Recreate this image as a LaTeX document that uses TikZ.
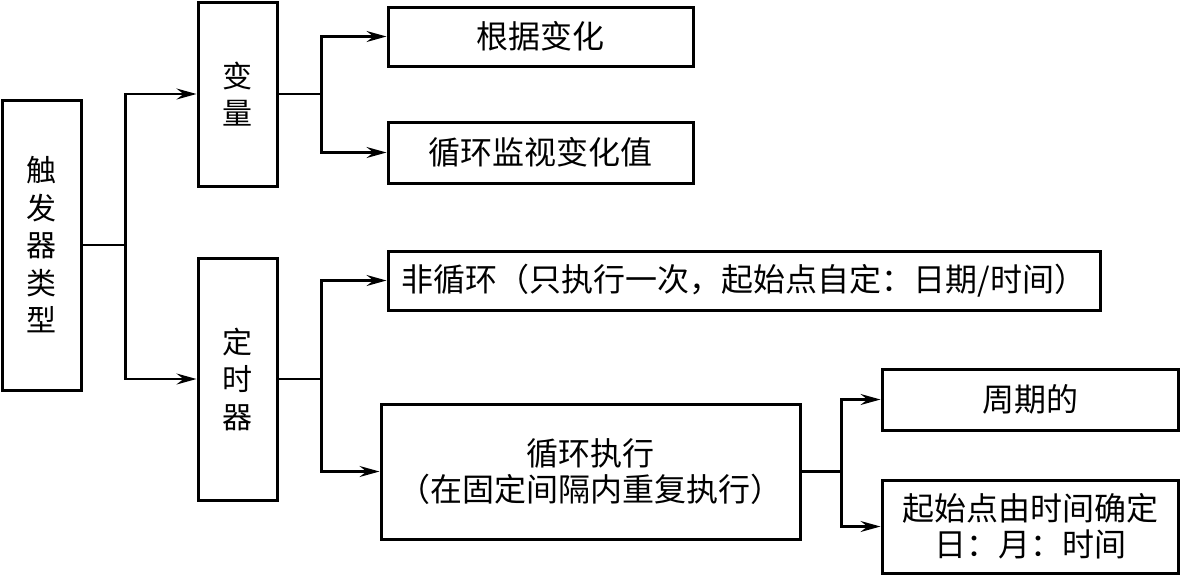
\documentclass[tikz,border=0pt]{standalone}
\usepackage{fontspec}
\newfontfamily\cjk{Noto Sans CJK SC}
\usetikzlibrary{arrows.meta}
\tikzset{
  box/.style={draw, line width=3pt, inner sep=0pt, align=center,
    font=\cjk\fontsize{32}{36}\selectfont},
  vbox/.style={box, font=\cjk\fontsize{30}{37.5}\selectfont},
  line/.style={line width=2.2pt},
  conn/.style={line width=2.2pt, -{Stealth[length=20pt,width=11pt,inset=7pt]}},
}
\begin{document}
\begin{tikzpicture}[x=1pt,y=-1pt]
\useasboundingbox (0,0) rectangle (1182,576);
% boxes
\node[vbox, minimum width=79pt, minimum height=290pt] (trig) at (41.5,245) {触\\发\\器\\类\\型};
\node[vbox, minimum width=79pt, minimum height=184pt] (var) at (237.5,94) {变\\量};
\node[vbox, minimum width=79pt, minimum height=242pt] (timer) at (237.5,379) {定\\时\\器};
\node[box, minimum width=305pt, minimum height=59pt] (gen) at (540.5,36.5) {根据变化};
\node[box, minimum width=305pt, minimum height=61pt] (mon) at (540.5,152.5) {循环监视变化值};
\node[box, minimum width=712pt, minimum height=59pt] (nonloop) at (744,280.5) {非循环（只执行一次，起始点自定：日期/时间）};
\node[box, minimum width=419pt, minimum height=135pt] (loopexec) at (590.5,471.5) {循环执行\\（在固定间隔内重复执行）};
\node[box, minimum width=296pt, minimum height=61pt] (period) at (1030,399.5) {周期的};
\node[box, minimum width=296pt, minimum height=93pt] (start) at (1030,526.5) {起始点由时间确定\\日：月：时间};
% connectors
\draw[line] (trig.east) -- ++(43,0) coordinate (j1);
\draw[conn] (j1) |- (var.west);
\draw[conn] (j1) |- (timer.west);
\draw[line] (var.east) -- ++(43,0) coordinate (j2);
\draw[conn] (j2) |- (gen.west);
\draw[conn] (j2) |- (mon.west);
\draw[line] (timer.east) -- ++(43,0) coordinate (j3);
\draw[conn] (j3) |- (nonloop.west);
\draw[conn] (j3) |- (loopexec.west);
\draw[line] (loopexec.east) -- ++(40,0) coordinate (j4);
\draw[conn] (j4) |- (period.west);
\draw[conn] (j4) |- (start.west);
\end{tikzpicture}
\end{document}
